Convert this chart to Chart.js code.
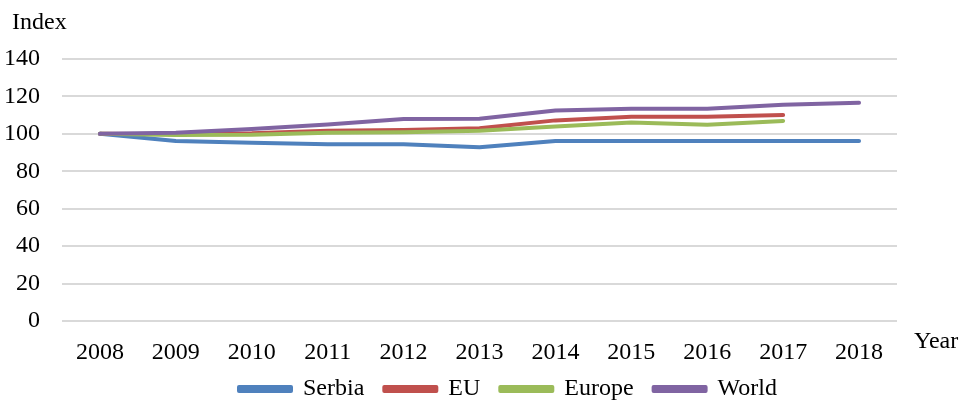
<!DOCTYPE html>
<html><head><meta charset="utf-8">
<script src="https://cdn.jsdelivr.net/npm/chart.js@4.4.1/dist/chart.umd.min.js"></script>
<style>html,body{margin:0;padding:0;background:#fff}#wrap{width:968px;height:402px}</style>
</head><body><div id="wrap"><canvas id="c" width="968" height="402"></canvas></div>
<script>
const years = ['2008','2009','2010','2011','2012','2013','2014','2015','2016','2017','2018'];
const serbia = [100, 96.2, 95.2, 94.4, 94.4, 92.8, 96.2, 96.2, 96.2, 96.2, 96.2];
const eu     = [100, 99.8, 100.3, 101.7, 102.0, 103.0, 107.2, 109.1, 109.2, 110.1, null];
const europe = [100, 99.4, 99.5, 100.6, 100.9, 101.6, 103.9, 106.1, 104.9, 106.9, null];
const world  = [100, 100.6, 102.6, 105.0, 108.0, 108.1, 112.5, 113.4, 113.4, 115.6, 116.6];
const yTicks = [0, 20, 40, 60, 80, 100, 120, 140];
const FONT = "'Liberation Serif', 'Times New Roman', serif";
const FS = 24;
const ds = (label, data, color, order) => ({label, data, borderColor: color, backgroundColor: color, order,
  borderWidth: 4, pointRadius: 0, tension: 0, fill: false, spanGaps: false, borderCapStyle: 'round', borderJoinStyle: 'round'});
const extraText = {
  id: 'extraText',
  afterLayout(chart) {
    const lg = chart.legend;
    if (lg) { lg.left = 48; lg.right = 968; lg.width = 920; lg.top = 357; lg.bottom = 402; lg.height = 45; }
  },
  afterDraw(chart) {
    const ctx = chart.ctx;
    ctx.save();
    ctx.fillStyle = '#000';
    ctx.font = FS + 'px ' + FONT;
    ctx.textBaseline = 'alphabetic';
    ctx.textAlign = 'left';
    ctx.fillText('Index', 12, 29);
    ctx.fillText('Year', 914, 348);
    ctx.restore();
  }
};
new Chart(document.getElementById('c'), {
  type: 'line',
  data: { labels: years, datasets: [
    ds('Serbia', serbia, '#4F81BD', 3),
    ds('EU', eu, '#C0504D', 2),
    ds('Europe', europe, '#9BBB59', 1),
    ds('World', world, '#8064A2', 0)
  ]},
  options: {
    responsive: false, animation: false,
    layout: { padding: { top: 59, right: 71, left: 0, bottom: 0 } },
    plugins: {
      legend: { position: 'bottom', maxHeight: 39,
        labels: { font: { family: FONT, size: FS }, color: '#000', boxWidth: 52, boxHeight: 4, padding: 20,
          sort: (a, b) => a.datasetIndex - b.datasetIndex } },
      tooltip: { enabled: false }
    },
    scales: {
      x: { offset: true, grid: { display: false, drawTicks: false }, border: { display: false },
        ticks: { font: { family: FONT, size: FS }, color: '#000', maxRotation: 0, autoSkip: false, padding: 17 },
        afterFit(s) { s.height = 42; } },
      y: { min: 0, max: 140, afterBuildTicks(s) { s.ticks = yTicks.map(v => ({value: v})); },
        grid: { color: '#d9d9d9', lineWidth: 2, drawTicks: false }, border: { display: false },
        ticks: { font: { family: FONT, size: FS }, color: '#000', padding: 22 },
        afterFit(s) { s.width = 62; } }
    }
  },
  plugins: [extraText]
});
</script></body></html>
